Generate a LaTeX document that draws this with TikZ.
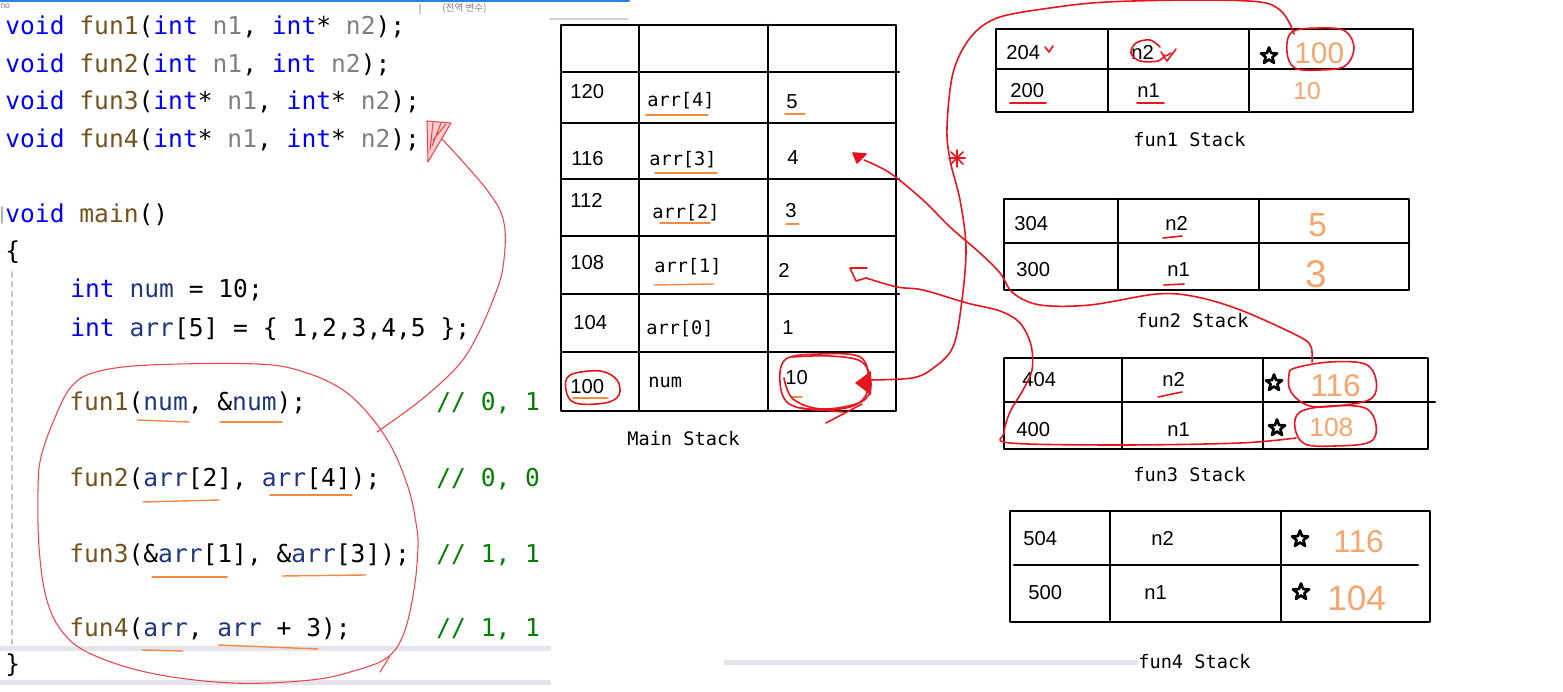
\documentclass[tikz,border=0pt]{standalone}
\usepackage{fontspec}
\setmainfont{Liberation Sans}
\setmonofont{DejaVu Sans Mono}
\newfontfamily\krfont{Noto Sans CJK KR}
\usetikzlibrary{shapes.geometric}
\definecolor{kwblue}{RGB}{0,0,255}
\definecolor{fnbrown}{RGB}{116,83,31}
\definecolor{pargray}{RGB}{128,128,128}
\definecolor{varnavy}{RGB}{31,55,127}
\definecolor{cmtgreen}{RGB}{0,128,0}
\definecolor{pen}{RGB}{232,20,30}
\definecolor{hl}{RGB}{240,140,70}
\definecolor{handor}{RGB}{245,165,110}
\definecolor{barg}{RGB}{228,228,236}
\definecolor{topblue}{RGB}{40,130,230}
\newcommand{\kw}[1]{\textcolor{kwblue}{#1}}
\newcommand{\fn}[1]{\textcolor{fnbrown}{#1}}
\newcommand{\pa}[1]{\textcolor{pargray}{#1}}
\newcommand{\va}[1]{\textcolor{varnavy}{#1}}
\begin{document}
\begin{tikzpicture}[x=0.02cm, y=-0.02cm, line cap=round, line join=round,
    codeln/.style={anchor=base west, inner sep=0, font=\ttfamily\fontsize{14}{16}\selectfont},
    cmtln/.style={codeln, text=cmtgreen},
    addr/.style={anchor=base west, inner sep=0, font=\fontsize{11.5}{13}\selectfont},
    vname/.style={anchor=base west, inner sep=0, font=\ttfamily\fontsize{10.6}{12}\selectfont},
    handnum/.style={anchor=base west, inner sep=0, text=handor, font=\fontsize{17}{19}\selectfont},
    tline/.style={line width=1.5pt},
    redpen/.style={draw=pen, line width=0.9pt},
    thinpen/.style={draw=pen!80, line width=0.6pt},
    orline/.style={draw=hl, line width=0.8pt},
    pstar/.style={star, star points=5, star point ratio=2.4, draw, line width=1.5pt, inner sep=0, minimum size=0.34cm}]
  \useasboundingbox (0,0) rectangle (1563,692);
  \fill[white] (0,0) rectangle (1563,692);

  % editor frame
  \draw[topblue, line width=1.2pt] (0,1) -- (629,1);
  \draw[gray!35, line width=0.8pt] (550,19) -- (628,19);
  \draw[gray!40, line width=1pt] (420,4) -- (420,14);
  \draw[gray!60, line width=1pt] (2,207) -- (2,223);
  \draw[gray!45, line width=0.6pt, dash pattern=on 3pt off 2.5pt] (12,272) -- (12,646);
  \fill[barg] (0,646) rectangle (551,651);
  \fill[barg] (0,680) rectangle (551,685);
  \fill[barg] (724,660) rectangle (1138,665);
  \node[anchor=west, inner sep=0, text=gray, font=\fontsize{5}{6}\selectfont] (tabno) at (0,6) {no};
  \node[anchor=west, inner sep=0, text=gray, font=\krfont\fontsize{5.5}{6}\selectfont] (glob) at (442,8) {(전역 변수)};

  % code
  \node[codeln] (c1) at (5,35) {\kw{void} \fn{fun1}(\kw{int} \pa{n1}, \kw{int}* \pa{n2});};
  \node[codeln] (c2) at (5,73) {\kw{void} \fn{fun2}(\kw{int} \pa{n1}, \kw{int} \pa{n2});};
  \node[codeln] (c3) at (5,110) {\kw{void} \fn{fun3}(\kw{int}* \pa{n1}, \kw{int}* \pa{n2});};
  \node[codeln] (c4) at (5,148) {\kw{void} \fn{fun4}(\kw{int}* \pa{n1}, \kw{int}* \pa{n2});};
  \node[codeln] (c5) at (5,223) {\kw{void} \fn{main}()};
  \node[codeln] (c6) at (5,260) {\{};
  \node[codeln] (c7) at (70,298) {\kw{int} \va{num} = 10;};
  \node[codeln] (c8) at (70,337) {\kw{int} \va{arr}[5] = \{ 1,2,3,4,5 \};};
  \node[codeln] (c9) at (69,411) {\fn{fun1}(\va{num}, \&\va{num});};
  \node[codeln] (c10) at (69,487) {\fn{fun2}(\va{arr}[2], \va{arr}[4]);};
  \node[codeln] (c11) at (69,562) {\fn{fun3}(\&\va{arr}[1], \&\va{arr}[3]);};
  \node[codeln] (c12) at (69,637) {\fn{fun4}(\va{arr}, \va{arr} + 3);};
  \node[codeln] (c13) at (5,672) {\}};
  \node[cmtln] (cm1) at (436,411) {// 0, 1};
  \node[cmtln] (cm2) at (436,487) {// 0, 0};
  \node[cmtln] (cm3) at (436,562) {// 1, 1};
  \node[cmtln] (cm4) at (436,637) {// 1, 1};
  \draw[orline] (137,420) -- (189,422);
  \draw[orline] (220,422) -- (282,422);
  \draw[orline] (143,502) -- (219,500);
  \draw[orline] (270,495) -- (352,495);
  \draw[orline] (152,577) -- (227,577);
  \draw[orline] (282,576) -- (366,575);
  \draw[orline] (142,650) -- (183,651);
  \draw[orline] (218,645) -- (318,649);

  % main stack
  \draw[tline] (561,25) rectangle (896,411);
  \draw[tline] (639,25) -- (639,411);
  \draw[tline] (768,25) -- (768,411);
  \draw[tline] (561,72) -- (899,72);
  \draw[tline] (561,123) -- (896,123);
  \draw[tline] (561,179) -- (899,179);
  \draw[tline] (561,236) -- (896,236);
  \draw[tline] (561,294) -- (899,294);
  \draw[tline] (561,352) -- (896,352);
  \node[addr] (a120) at (570,99) {120};
  \node[addr] (a116) at (571,166) {116};
  \node[addr] (a112) at (570,208) {112};
  \node[addr] (a108) at (570,270) {108};
  \node[addr] (a104) at (573,330) {104};
  \node[addr] (a100) at (570,394) {100};
  \node[vname] (arr4) at (647,107) {arr[4]};
  \node[vname] (arr3) at (649,166) {arr[3]};
  \node[vname] (arr2) at (652,219) {arr[2]};
  \node[vname] (arr1) at (654,273) {arr[1]};
  \node[vname] (arr0) at (646,335) {arr[0]};
  \node[vname] (num) at (648,388) {num};
  \node[addr] (v5) at (786,109) {5};
  \node[addr] (v4) at (787,165) {4};
  \node[addr] (v3) at (785,218) {3};
  \node[addr] (v2) at (778,278) {2};
  \node[addr] (v1) at (782,335) {1};
  \node[addr] (v10) at (785,385) {10};
  \node[vname] (mainlab) at (627,446) {Main Stack};
  \draw[orline] (646,115) -- (708,115);
  \draw[orline] (785,114) -- (805,114);
  \draw[orline] (655,173) -- (717,173);
  \draw[orline] (660,223) -- (710,223);
  \draw[orline] (786,224) -- (799,224);
  \draw[orline] (654,285) -- (714,284);
  \draw[orline] (791,397) -- (802,397);
  \draw[orline] (573,398) -- (608,398);

  % fun1 stack
  \draw[tline] (996,29) rectangle (1413,112);
  \draw[tline] (1108,29) -- (1108,112);
  \draw[tline] (1249,29) -- (1249,112);
  \draw[tline] (996,69) -- (1413,69);
  \node[addr] (f204) at (1006,60) {204};
  \node[addr] (f1n2) at (1131,60) {n2};
  \node[pstar] (s1) at (1269,56) {};
  \node[handnum] (h100) at (1294,64) {100};
  \node[addr] (f200) at (1010,98) {200};
  \node[addr] (f1n1) at (1137,98) {n1};
  \node[handnum, font=\fontsize{14}{16}\selectfont] (h10) at (1293,100) {10};
  \node[vname] (f1lab) at (1133,147) {fun1 Stack};

  % fun2 stack
  \draw[tline] (1004,199) rectangle (1409,290);
  \draw[tline] (1118,199) -- (1118,290);
  \draw[tline] (1259,199) -- (1259,290);
  \draw[tline] (1004,243) -- (1409,243);
  \node[addr] (f304) at (1014,231) {304};
  \node[addr] (f2n2) at (1165,231) {n2};
  \node[handnum, font=\fontsize{19}{21}\selectfont] (h5) at (1308,237) {5};
  \node[addr] (f300) at (1016,277) {300};
  \node[addr] (f2n1) at (1167,277) {n1};
  \node[handnum, font=\fontsize{22}{24}\selectfont] (h3) at (1305,288) {3};
  \node[vname] (f2lab) at (1136,328) {fun2 Stack};

  % fun3 stack
  \draw[tline] (1004,358) rectangle (1428,449);
  \draw[tline] (1122,358) -- (1122,449);
  \draw[tline] (1263,358) -- (1263,449);
  \draw[tline] (1004,402) -- (1435,402);
  \node[addr] (f404) at (1022,387) {404};
  \node[addr] (f3n2) at (1162,387) {n2};
  \node[pstar] (s2) at (1274,383) {};
  \node[handnum, font=\fontsize{18}{20}\selectfont] (h116a) at (1310,397) {116};
  \node[addr] (f400) at (1016,437) {400};
  \node[addr] (f3n1) at (1167,437) {n1};
  \node[pstar] (s3) at (1277,428) {};
  \node[handnum, font=\fontsize{15}{17}\selectfont] (h108) at (1309,437) {108};
  \node[vname] (f3lab) at (1133,482) {fun3 Stack};

  % fun4 stack
  \draw[tline] (1010,511) rectangle (1430,622);
  \draw[tline] (1110,511) -- (1110,620);
  \draw[tline] (1281,511) -- (1281,622);
  \draw[tline] (1014,565) -- (1418,565);
  \node[addr] (f504) at (1023,546) {504};
  \node[addr] (f4n2) at (1151,546) {n2};
  \node[pstar] (s4) at (1300,539) {};
  \node[handnum, font=\fontsize{18}{20}\selectfont] (h116b) at (1333,553) {116};
  \node[addr] (f500) at (1028,600) {500};
  \node[addr] (f4n1) at (1144,600) {n1};
  \node[pstar] (s5) at (1301,592) {};
  \node[handnum, font=\fontsize{20}{22}\selectfont] (h104) at (1327,610) {104};
  \node[vname, fill=white] (f4lab) at (1138,668) {fun4 Stack};

  % red pen marks
  \draw[redpen] plot[smooth cycle, tension=0.6] coordinates {(570,375) (600,371) (617,380) (619,395) (605,403) (575,403) (566,390)};
  \draw[redpen] plot[smooth cycle, tension=0.6] coordinates {(786,359) (820,354) (858,356) (868,372) (866,395) (850,407) (815,410) (788,403) (780,382)};
  \draw[redpen] plot[smooth, tension=0.6] coordinates {(792,357) (830,356) (862,362) (871,385) (861,402) (822,409) (793,399) (784,378)};
  \draw[redpen] (800,408) -- (843,412);
  \draw[redpen] (862,404) -- (826,423);
  \draw[redpen] plot[smooth cycle, tension=0.6] coordinates {(1292,32) (1320,28) (1345,31) (1354,48) (1345,66) (1320,70) (1295,68) (1287,52)};
  \draw[redpen] plot[smooth, tension=0.6] coordinates {(1160,47) (1150,40) (1136,43) (1131,53) (1140,61) (1158,61) (1165,55)};
  \draw[redpen] (1161,52) -- (1167,61) -- (1176,49);
  \draw[redpen] (1166,56) -- (1171,53);
  \draw[redpen] (1045,47) -- (1049,52) -- (1053,46);
  \draw[redpen] (1010,103) -- (1046,103);
  \draw[redpen] (1137,103) -- (1164,103);
  \draw[redpen] (1163,238) -- (1182,236);
  \draw[redpen] (1164,285) -- (1184,284);
  \draw[redpen] (1158,397) -- (1182,392);
  \draw[redpen] plot[smooth cycle, tension=0.6] coordinates {(1295,368) (1330,362) (1365,364) (1376,380) (1372,398) (1345,405) (1310,406) (1291,392) (1289,375)};
  \draw[redpen] plot[smooth cycle, tension=0.6] coordinates {(1300,412) (1330,406) (1365,408) (1376,425) (1370,442) (1335,446) (1305,444) (1295,428)};

  % code loop and its arrow
  \draw[thinpen] plot[smooth cycle, tension=0.6] coordinates {(96,372) (150,365) (257,364) (304,372) (343,390) (371,417) (393,450) (409,490) (416,523) (418,547) (414,590) (404,633) (388,657) (357,670) (311,680) (232,683) (150,673) (89,653) (61,630) (46,597) (39,547) (38,490) (41,457) (54,420) (71,387)};
  \draw[thinpen] (380,672) -- (390,656);
  \coordinate (looptail) at (377,432);
  \coordinate (decltip) at (442,139);
  \draw[thinpen] plot[smooth, tension=0.6] coordinates {(looptail) (421,400) (457,367) (475,340) (493,300) (503,267) (504,223) (487,190) (decltip)};
  \draw[thinpen, fill=pen!20] (427,121) -- (451,123) -- (428,162) -- cycle;
  \draw[thinpen] (433,123) -- (430,150) (441,123) -- (432,146) (446,124) -- (433,140);

  % pointer arrows
  \coordinate (numtip) at (870,380);
  \coordinate (c100) at (1294,34);
  \fill[pen] (855,383) -- (871,371) -- (871,395) -- cycle;
  \draw[redpen] plot[smooth, tension=0.55] coordinates {(numtip) (912,378) (932,369) (953,347) (962,300) (966,247) (960,200) (950,160) (947,127) (953,73) (970,38) (997,18) (1050,8) (1107,2) (1200,0) (1260,2) (1280,10) (1290,24) (c100)};
  \draw[redpen] (949,158) -- (965,158) (957,150) -- (957,167) (951,152) -- (963,164) (963,152) -- (951,164);

  \coordinate (arr3tip) at (864,160);
  \coordinate (c116) at (1312,362);
  \draw[redpen, fill=pen] (866,154) -- (853,153) -- (857,163) -- cycle;
  \draw[redpen] plot[smooth, tension=0.55] coordinates {(arr3tip) (890,173) (923,200) (950,227) (980,253) (1000,273) (1013,293) (1040,305) (1090,305) (1157,294) (1197,297) (1243,311) (1300,337) (1311,347) (c116)};

  \coordinate (arr1tip) at (866,278);
  \coordinate (c108) at (1296,438);
  \draw[redpen] (867,268) -- (850,268) -- (856,281) -- (866,278);
  \draw[redpen] plot[smooth, tension=0.55] coordinates {(arr1tip) (897,287) (923,290) (967,303) (1000,311) (1020,323) (1031,345) (1032,370) (1023,390) (1010,412) (1004,433) (1010,443) (1123,445) (1240,443) (c108)};
\end{tikzpicture}
\end{document}
